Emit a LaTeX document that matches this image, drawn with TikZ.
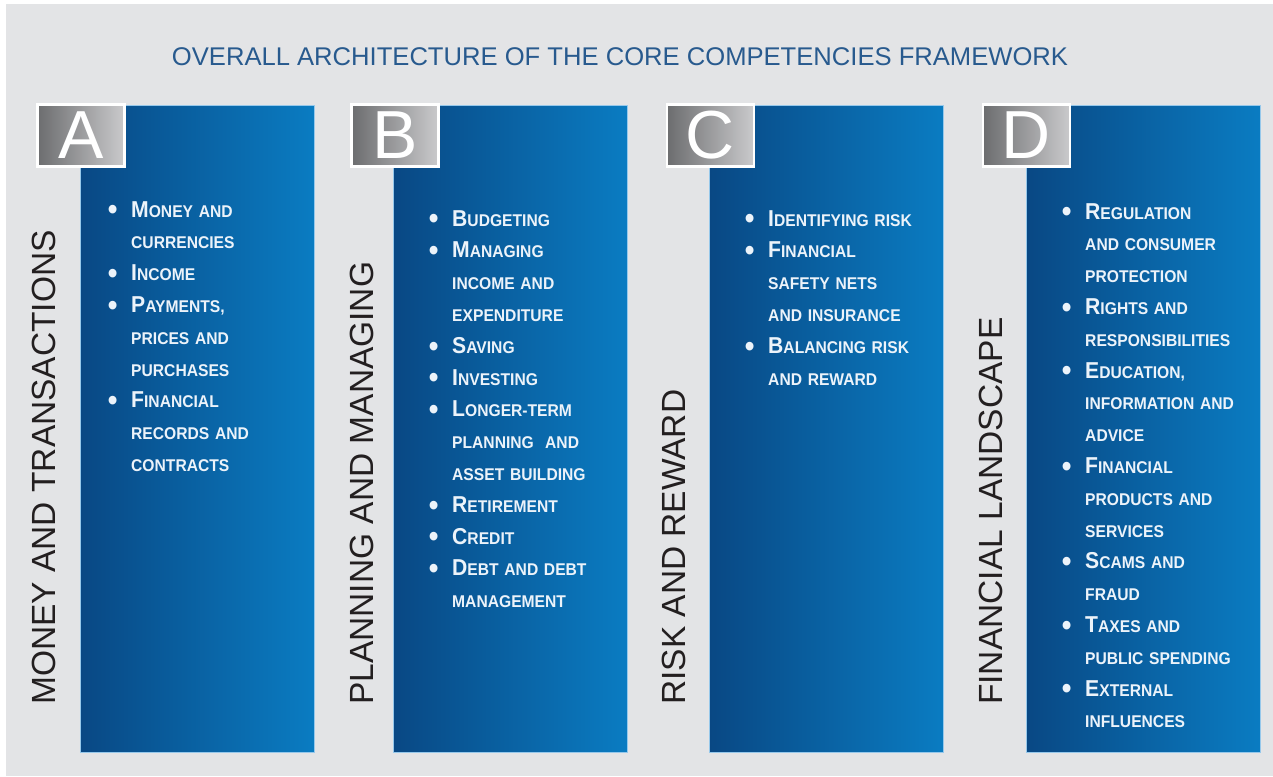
\documentclass[tikz,border=0pt]{standalone}
\usepackage{fontspec}
\setmainfont{Liberation Sans}
\newfontfamily\itemfont{Liberation Sans}[FakeStretch=0.92]
\usepackage{graphicx}
\definecolor{bgpanel}{RGB}{227,228,230}
\definecolor{titleblue}{RGB}{40,90,142}
\definecolor{blueL}{RGB}{9,72,132}
\definecolor{blueR}{RGB}{10,124,194}
\definecolor{blueEdge}{RGB}{150,200,235}
\definecolor{grayL}{RGB}{108,109,111}
\definecolor{grayR}{RGB}{202,202,204}
\definecolor{labelink}{RGB}{35,31,32}
\definecolor{itemink}{RGB}{236,243,250}
\newcommand\smc[2]{{\fontsize{23}{23}\selectfont #1}#2}
\newcommand\itm[2]{\makebox[0pt][r]{\raisebox{-2.8pt}{\fontsize{30}{30}\selectfont\textbullet}\hspace{13.75pt}}\smc{#1}{#2}}
\begin{document}
\begin{tikzpicture}[x=1pt,y=-1pt,
  bluebox/.style={shading=axis,left color=blueL,right color=blueR,draw=blueEdge,line width=0.8pt,
    minimum width=234pt,minimum height=647pt,anchor=north west,inner sep=0pt},
  letterbox/.style={shading=axis,left color=grayL,right color=grayR,draw=white,line width=2.5pt,
    minimum width=87pt,minimum height=62pt,inner sep=0pt,text=white,
    font=\fontsize{68}{68}\selectfont},
  sidelabel/.style={rotate=90,anchor=base west,inner sep=0pt,text=labelink,
    font=\fontsize{33.5}{33.5}\selectfont},
  itemlist/.style={anchor=base west,inner sep=0pt,text width=210pt,align=left,text=itemink,
    font=\itemfont\bfseries\fontsize{17}{31.8}\selectfont},
  titletext/.style={anchor=base,inner sep=0pt,text=titleblue,font=\fontsize{25.6}{25.6}\selectfont}]
\useasboundingbox (0,0) rectangle (1273,776);
\fill[white] (0,0) rectangle (1273,776);
\fill[bgpanel] (6,4) rectangle (1273,776);

\node[titletext] (title) at (620,65) {OVERALL ARCHITECTURE OF THE CORE COMPETENCIES FRAMEWORK};

% Column A
\node[bluebox] (boxA) at (80,105) {};
\node[letterbox] (tabA) at (81,135.5) {A};
\node[sidelabel] (labA) at (55,705) {MONEY AND TRANSACTIONS};
\node[itemlist] (listA) at (131,217) {%
\itm{M}{ONEY AND}\\ CURRENCIES\\
\itm{I}{NCOME}\\
\itm{P}{AYMENTS,}\\ PRICES AND\\ PURCHASES\\
\itm{F}{INANCIAL}\\ RECORDS AND\\ CONTRACTS};

% Column B
\node[bluebox] (boxB) at (393,105) {};
\node[letterbox] (tabB) at (395,135.5) {B};
\node[sidelabel] (labB) at (373,705) {PLANNING AND MANAGING};
\node[itemlist] (listB) at (452,226) {%
\itm{B}{UDGETING}\\
\itm{M}{ANAGING}\\ INCOME AND\\ EXPENDITURE\\
\itm{S}{AVING}\\
\itm{I}{NVESTING}\\
\itm{L}{ONGER-TERM}\\ PLANNING\ \ AND\\ ASSET BUILDING\\
\itm{R}{ETIREMENT}\\
\itm{C}{REDIT}\\
\itm{D}{EBT AND DEBT}\\ MANAGEMENT};

% Column C
\node[bluebox] (boxC) at (709,105) {};
\node[letterbox] (tabC) at (710.5,135.5) {C};
\node[sidelabel] (labC) at (685,705) {RISK AND REWARD};
\node[itemlist] (listC) at (768,226) {%
\itm{I}{DENTIFYING RISK}\\
\itm{F}{INANCIAL}\\ SAFETY NETS\\ AND INSURANCE\\
\itm{B}{ALANCING RISK}\\ AND REWARD};

% Column D
\node[bluebox] (boxD) at (1026,105) {};
\node[letterbox] (tabD) at (1026.5,135.5) {D};
\node[sidelabel] (labD) at (1002,705) {FINANCIAL LANDSCAPE};
\node[itemlist] (listD) at (1085,219) {%
\itm{R}{EGULATION}\\ AND CONSUMER\\ PROTECTION\\
\itm{R}{IGHTS AND}\\ RESPONSIBILITIES\\
\itm{E}{DUCATION,}\\ INFORMATION AND\\ ADVICE\\
\itm{F}{INANCIAL}\\ PRODUCTS AND\\ SERVICES\\
\itm{S}{CAMS AND}\\ FRAUD\\
\itm{T}{AXES AND}\\ PUBLIC SPENDING\\
\itm{E}{XTERNAL}\\ INFLUENCES};
\end{tikzpicture}
\end{document}
